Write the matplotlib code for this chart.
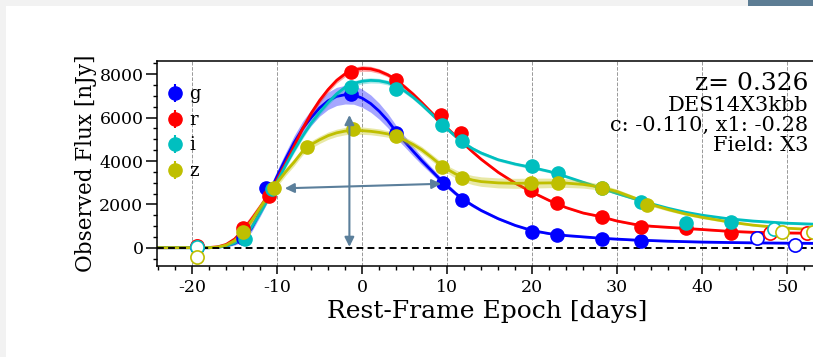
import numpy as np
import matplotlib
matplotlib.use("Agg")
import matplotlib.pyplot as plt
from matplotlib.patches import Rectangle

plt.rcParams['font.family'] = ['DejaVu Serif']
plt.rcParams['axes.unicode_minus'] = False

# observed photometry (rest-frame days, nJy)
g_t = [-14.0, -11.3, -1.3, 4.0, 9.5, 11.7, 20.0, 22.9, 28.2, 32.8]
g_f = [450, 2740, 7080, 5280, 3000, 2200, 740, 600, 400, 320]
r_t = [-14.0, -11.0, -1.3, 4.0, 9.3, 11.6, 19.9, 22.9, 28.2, 32.8, 38.1, 43.4]
r_f = [900, 2390, 8120, 7740, 6120, 5300, 2660, 2050, 1400, 970, 900, 660]
i_t = [-13.8, -10.6, -1.3, 4.0, 9.4, 11.7, 20.0, 23.0, 28.2, 32.8, 38.1, 43.4]
i_f = [400, 2700, 7430, 7320, 5660, 4940, 3770, 3460, 2770, 2120, 1150, 1200]
z_t = [-14.0, -10.4, -6.5, -1.1, 4.0, 9.4, 11.7, 19.9, 23.0, 28.2, 33.5]
z_f = [740, 2770, 4660, 5460, 5150, 3740, 3200, 3000, 2970, 2770, 1970]
flux_err = 150

# points left out of the fit
g_out_t = [-19.4, 46.4, 50.9]
g_out_f = [40, 430, 120]
r_out_t = [-19.4, 48.0, 52.3]
r_out_f = [60, 690, 660]
i_out_t = [-19.4, 48.4]
i_out_f = [30, 850]
z_out_t = [-19.4, 49.4, 53.0]
z_out_f = [-440, 740, 740]

# fitted model curves and their 1-sigma half widths
model_t = [-24, -18, -17, -16, -15, -14, -13, -12, -11, -10, -9, -8, -7, -6, -5,
           -4, -3, -2, -1, 0, 1, 2, 3, 4, 5, 6, 7, 8, 9, 10, 11, 12, 13, 14,
           16, 18, 20, 22, 24, 26, 28, 30, 32, 34, 36, 38, 40, 43, 46, 50, 55, 60]
g_model = [0, 0, 20, 80, 200, 400, 900, 1650, 2450, 3300, 4100, 4850, 5500, 6000, 6450,
           6780, 6980, 7060, 7050, 6900, 6650, 6300, 5870, 5350, 4900, 4450, 4020, 3620, 3220, 2850, 2500, 2200, 1950, 1720,
           1340, 1030, 790, 650, 560, 500, 440, 395, 355, 330, 300, 280, 260, 240, 225, 210, 195, 185]
g_band = [0, 0, 20, 40, 80, 120, 160, 200, 240, 270, 300, 320, 340, 360, 380,
          400, 420, 430, 430, 420, 400, 370, 330, 290, 250, 220, 190, 160, 140, 120, 100, 90, 80, 70,
          60, 50, 50, 40, 40, 40, 40, 40, 40, 40, 40, 40, 40, 40, 40, 40, 40, 40]
r_model = [0, 10, 40, 150, 400, 820, 1320, 1870, 2450, 3150, 3900, 4700, 5500, 6200, 6800,
           7300, 7720, 8020, 8200, 8270, 8250, 8150, 7980, 7750, 7420, 7080, 6700, 6300, 5900, 5520, 5150, 4780, 4420, 4080,
           3480, 2980, 2560, 2180, 1850, 1600, 1440, 1230, 1080, 990, 940, 890, 840, 760, 710, 680, 660, 650]
r_band = [0, 10, 30, 70, 120, 170, 200, 200, 190, 170, 150, 140, 130, 130, 130,
          130, 130, 130, 130, 130, 120, 110, 100, 100, 100, 100, 90, 90, 80, 80, 80, 70, 70, 70,
          60, 60, 50, 50, 40, 40, 40, 40, 40, 40, 40, 40, 40, 40, 40, 40, 40, 40]
i_model = [0, 0, 20, 80, 220, 480, 950, 1600, 2300, 3050, 3800, 4500, 5150, 5750, 6250,
           6700, 7100, 7400, 7580, 7680, 7720, 7700, 7620, 7460, 7230, 6940, 6600, 6230, 5850, 5480, 5130, 4820, 4570, 4370,
           4060, 3860, 3700, 3520, 3280, 3020, 2760, 2500, 2260, 2030, 1820, 1640, 1500, 1340, 1230, 1130, 1060, 1020]
i_band = [0, 0, 20, 40, 70, 90, 110, 120, 120, 120, 120, 120, 120, 120, 120,
          120, 120, 120, 120, 120, 120, 110, 110, 100, 100, 100, 100, 90, 90, 90, 80, 80, 80, 80,
          70, 70, 70, 60, 60, 60, 60, 50, 50, 50, 50, 50, 50, 50, 50, 50, 50, 50]
z_model = [0, 0, 30, 120, 330, 700, 1250, 1850, 2450, 3000, 3500, 3950, 4450, 4760, 4980,
           5170, 5300, 5380, 5410, 5400, 5370, 5320, 5250, 5130, 4960, 4760, 4520, 4220, 3900, 3620, 3400, 3230, 3120, 3050,
           2990, 2970, 2980, 2990, 2980, 2920, 2800, 2590, 2300, 1990, 1760, 1560, 1400, 1200, 1040, 900, 800, 750]
z_band = [0, 0, 30, 60, 100, 130, 150, 160, 170, 170, 170, 170, 170, 170, 170,
          170, 170, 170, 170, 170, 160, 160, 150, 150, 150, 150, 150, 150, 160, 170, 190, 200, 210, 220,
          230, 230, 230, 220, 200, 170, 140, 110, 90, 80, 70, 60, 60, 50, 50, 50, 50, 50]

bands = ['g', 'r', 'i', 'z']
colors = ['b', 'r', 'c', 'y']

# annotation arrows (day, flux) -> (day, flux)
width_arrow = [(-9.1, 2740), (9.3, 2950)]
height_arrow = [(-1.5, 40), (-1.5, 6120)]
arrow_color = '#5b7f9b'

info_big = 'z= 0.326'
info_lines = ['DES14X3kbb', 'c: -0.110, x1: -0.28', 'Field: X3']

fig = plt.figure(figsize=(8.13, 3.57), dpi=100)
W, H = 813, 357
# page background around the figure (screenshot frame)
fig.add_artist(Rectangle((0, 0), 6 / W, 1, transform=fig.transFigure, color='#f2f2f2', lw=0))
fig.add_artist(Rectangle((0, 1 - 6 / H), 1, 6 / H, transform=fig.transFigure, color='#f2f2f2', lw=0))
fig.add_artist(Rectangle((748 / W, 1 - 6 / H), 65 / W, 6 / H, transform=fig.transFigure, color='#5d7d94', lw=0))

x0, x1 = -24.1, 53.6
px_per_day = 8.5
ax = fig.add_axes([157.3 / W, 90.7 / H, (x1 - x0) * px_per_day / W, 205.3 / H])
ax.set_xlim(x0, x1)
ax.set_ylim(-858, 8614)

mt = np.array(model_t)
models = [(g_model, g_band), (r_model, r_band), (i_model, i_band), (z_model, z_band)]
obs = [(g_t, g_f), (r_t, r_f), (i_t, i_f), (z_t, z_f)]
outs = [(g_out_t, g_out_f), (r_out_t, r_out_f), (i_out_t, i_out_f), (z_out_t, z_out_f)]

for k, (band, col) in enumerate(zip(bands, colors)):
    m = np.array(models[k][0])
    s = np.array(models[k][1])
    ax.fill_between(mt, m - s, m + s, color=col, alpha=0.35, lw=0, zorder=2 + k * 0.1)
    ax.plot(mt, m, color=col, lw=2, zorder=2.05 + k * 0.1)

for k, (band, col) in enumerate(zip(bands, colors)):
    t, f = obs[k]
    ax.errorbar(t, f, yerr=flux_err, fmt='o', color=col, ms=9.5, elinewidth=1.5,
                label=band, zorder=4 + k * 0.1)
    ot, of = outs[k]
    ax.plot(ot, of, 'o', mfc='white', mec=col, ms=9.5, mew=1.2, zorder=4 + k * 0.1)

ax.axhline(0, color='k', ls=(0, (3.5, 2.2)), lw=1.4, zorder=3)

ax.annotate('', xy=width_arrow[1], xytext=width_arrow[0],
            arrowprops=dict(arrowstyle='<|-|>', color=arrow_color, lw=1.5,
                            mutation_scale=14, shrinkA=0, shrinkB=0), zorder=5)
ax.annotate('', xy=height_arrow[1], xytext=height_arrow[0],
            arrowprops=dict(arrowstyle='<|-|>', color=arrow_color, lw=1.5,
                            mutation_scale=14, shrinkA=0, shrinkB=0), zorder=5)

ax.set_xticks(np.arange(-20, 60, 10))
ax.set_xticks(np.arange(-24, 54, 2), minor=True)
ax.set_yticks(np.arange(0, 8001, 2000))
ax.set_yticks(np.arange(-500, 8601, 500), minor=True)
ax.grid(axis='x', which='major', ls='--', color='#999999', lw=0.7, zorder=0)
ax.tick_params(which='major', direction='out', length=5.5, width=1.1, labelsize=12.5)
ax.tick_params(which='minor', direction='out', length=3, width=1)
ax.tick_params(axis='y', which='major', length=8, pad=2)
for sp in ax.spines.values():
    sp.set_linewidth(1.1)

ax.set_xlabel('Rest-Frame Epoch [days]', fontsize=18, labelpad=3)
ax.set_ylabel('Observed Flux [nJy]', fontsize=15.5, labelpad=2)

ax.legend(loc='upper left', frameon=False, fontsize=13, handlelength=0.9,
          handletextpad=0.3, borderaxespad=0.2, borderpad=0.35, labelspacing=0.42,
          bbox_to_anchor=(0.0, 0.93))

fig.text(808 / W, 1 - 90 / H, info_big, ha='right', va='baseline', fontsize=18)
for n, line in enumerate(info_lines):
    fig.text(808 / W, 1 - (110.7 + 20.2 * n) / H, line, ha='right', va='baseline', fontsize=15)

fig.savefig('out.png', dpi=100)
